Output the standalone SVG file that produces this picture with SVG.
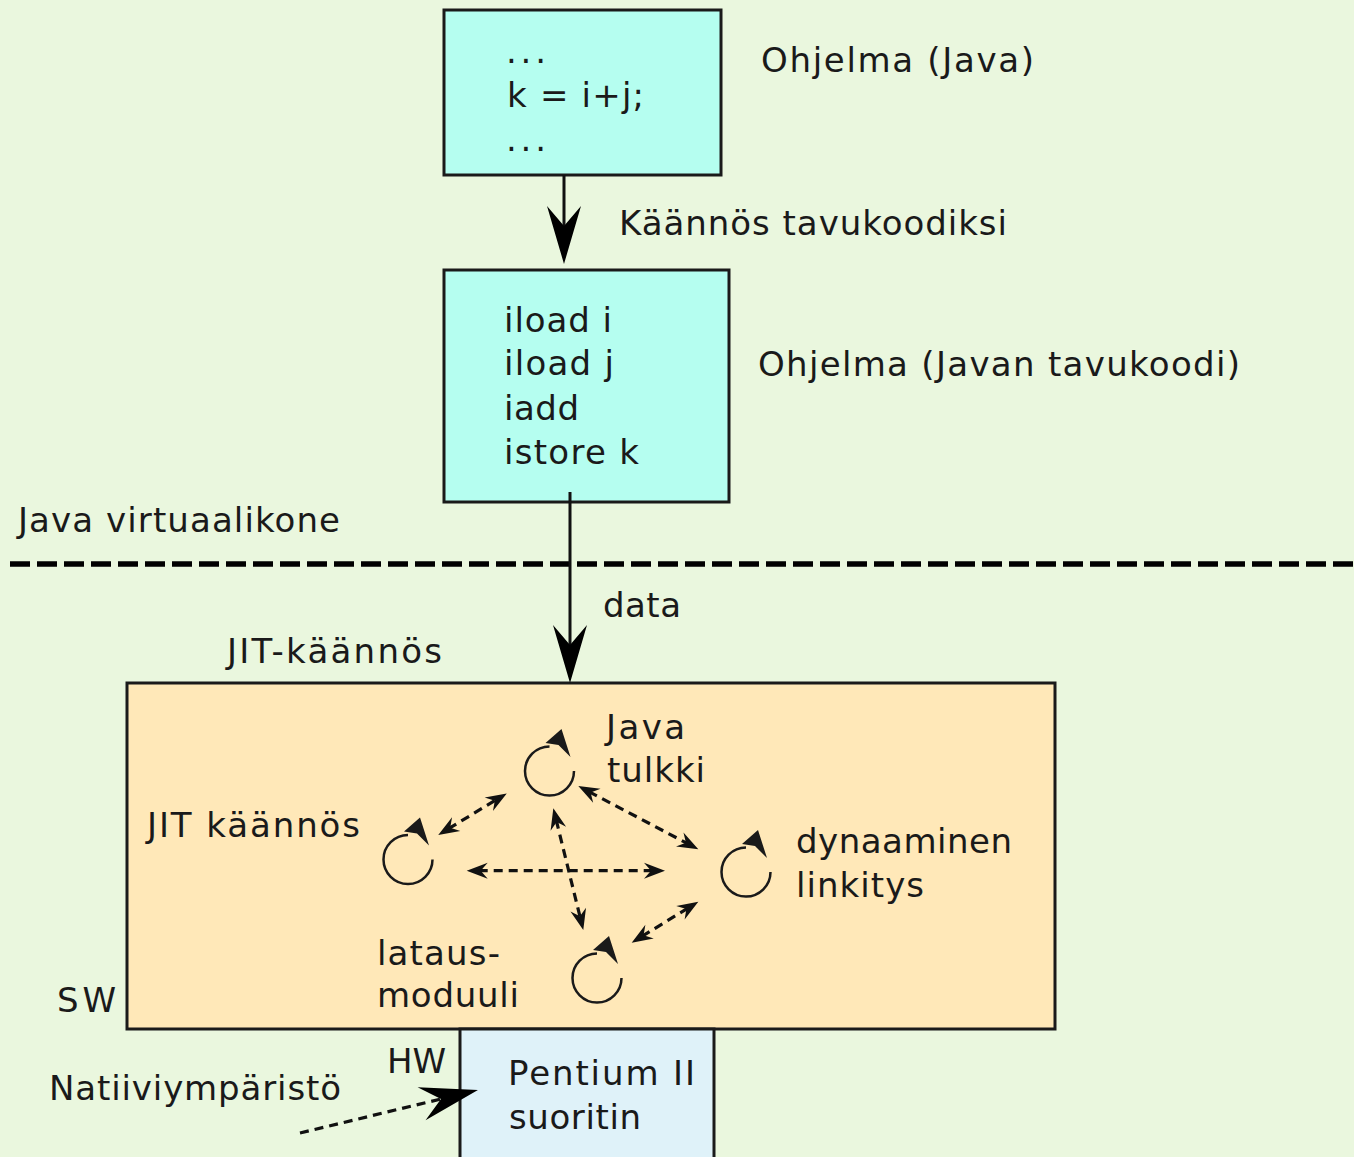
<svg xmlns="http://www.w3.org/2000/svg" xmlns:xlink="http://www.w3.org/1999/xlink" width="1354" height="1157" viewBox="0 0 1354 1157">
  <style>
    text { font-family: "DejaVu Sans", "Liberation Sans", sans-serif; font-size: 34px; fill: #1a1a1a; }
    .box { stroke: #1a1a1a; stroke-width: 3; }
    .code { fill: #b5fef0; }
    .jvm { fill: #ffe8b8; }
    .cpu { fill: #dff2f9; }
    .solid { fill: none; stroke: #111; stroke-width: 3; }
    .dash { fill: none; stroke: #111; stroke-width: 3.2; stroke-dasharray: 9 6; }
    .sep { fill: none; stroke: #000; stroke-width: 5.5; stroke-dasharray: 20 7; }
    .loop-arc { fill: none; stroke: #1a1a1a; stroke-width: 2.5; }
    .loop-head { fill: #1a1a1a; }
  </style>
  <defs>
    <!-- large concave arrowhead, line ends at the notch -->
    <marker id="head" viewBox="-62 -20 64 40" refX="-38" refY="0" markerWidth="64" markerHeight="40" markerUnits="userSpaceOnUse" orient="auto">
      <path d="M0,0 L-58,-17 L-38,0 L-58,17 Z" fill="#000"/>
    </marker>
    <!-- small arrowhead for the dashed two-way links -->
    <marker id="tip" viewBox="-24 -11 26 22" refX="-12" refY="0" markerWidth="26" markerHeight="22" markerUnits="userSpaceOnUse" orient="auto-start-reverse">
      <path d="M0,0 L-21,-8 L-14,0 L-21,8 Z" fill="#111"/>
    </marker>
    <!-- circular "process" symbol centred on the origin -->
    <g id="loop">
      <path class="loop-arc" d="M0,-24.5 A24.5,24.5 0 1 0 24.5,0"/>
      <path class="loop-head" d="M12,-42 L-4,-28 L9,-26 L21,-14 Z"/>
    </g>
  </defs>

  <rect x="0" y="0" width="1354" height="1157" fill="#eaf7de"/>

  <!-- layer separator -->
  <path class="sep" d="M10,564 H1354"/>

  <g id="java-source">
    <rect class="box code" x="444" y="10" width="277" height="165"/>
    <text x="506" y="63" textLength="40" lengthAdjust="spacing">...</text>
    <text x="507" y="107" textLength="137" lengthAdjust="spacing">k = i+j;</text>
    <text x="506" y="151" textLength="40" lengthAdjust="spacing">...</text>
  </g>
  <text x="761" y="72" textLength="273" lengthAdjust="spacing">Ohjelma (Java)</text>

  <g id="bytecode">
    <rect class="box code" x="444" y="270" width="285" height="232"/>
    <text x="504" y="332" textLength="108" lengthAdjust="spacing">iload i</text>
    <text x="504" y="375" textLength="110" lengthAdjust="spacing">iload j</text>
    <text x="504" y="420" textLength="75" lengthAdjust="spacing">iadd</text>
    <text x="504" y="464" textLength="135" lengthAdjust="spacing">istore k</text>
  </g>
  <text x="758" y="376" textLength="482" lengthAdjust="spacing">Ohjelma (Javan tavukoodi)</text>

  <text x="18" y="532" textLength="322" lengthAdjust="spacing">Java virtuaalikone</text>
  <text x="227" y="663" textLength="215" lengthAdjust="spacing">JIT-käännös</text>

  <g id="jvm">
    <rect class="box jvm" x="127" y="683" width="928" height="346"/>
  </g>

  <g id="cpu">
    <rect class="box cpu" x="460" y="1029" width="254" height="140"/>
    <text x="508" y="1085" textLength="187" lengthAdjust="spacing">Pentium II</text>
    <text x="509" y="1129" textLength="132" lengthAdjust="spacing">suoritin</text>
  </g>

  <g id="java-tulkki">
    <use xlink:href="#loop" href="#loop" x="549.5" y="771"/>
    <text x="606" y="739" textLength="79" lengthAdjust="spacing">Java</text>
    <text x="607" y="782" textLength="98" lengthAdjust="spacing">tulkki</text>
  </g>

  <g id="jit-kaannos">
    <use xlink:href="#loop" href="#loop" x="408" y="859.5"/>
    <text x="147" y="837" textLength="213" lengthAdjust="spacing">JIT käännös</text>
  </g>

  <g id="dynaaminen-linkitys">
    <use xlink:href="#loop" href="#loop" x="746" y="872"/>
    <text x="796" y="853" textLength="216" lengthAdjust="spacing">dynaaminen</text>
    <text x="796" y="897" textLength="128" lengthAdjust="spacing">linkitys</text>
  </g>

  <g id="latausmoduuli">
    <use xlink:href="#loop" href="#loop" x="597" y="978"/>
    <text x="377" y="965" textLength="123" lengthAdjust="spacing">lataus-</text>
    <text x="377" y="1007" textLength="142" lengthAdjust="spacing">moduuli</text>
  </g>

  <text x="57" y="1012" textLength="59" lengthAdjust="spacing">SW</text>
  <text x="387" y="1073">HW</text>
  <text x="49" y="1100" textLength="292" lengthAdjust="spacing">Natiiviympäristö</text>

  <g id="connectors">
    <!-- compilation to bytecode -->
    <path class="solid" d="M564,175 V226" marker-end="url(#head)"/>
    <text x="619" y="235" textLength="388" lengthAdjust="spacing">Käännös tavukoodiksi</text>
    <!-- bytecode fed into the virtual machine -->
    <path class="solid" d="M570,492 V645" marker-end="url(#head)"/>
    <text x="603" y="617" textLength="78" lengthAdjust="spacing">data</text>
    <!-- interactions between the VM components -->
    <path class="dash" d="M448.5,828.7 L496.5,799.6" marker-start="url(#tip)" marker-end="url(#tip)"/>
    <path class="dash" d="M588.9,791.6 L687.7,843.7" marker-start="url(#tip)" marker-end="url(#tip)"/>
    <path class="dash" d="M478.7,870.7 L653,870.7" marker-start="url(#tip)" marker-end="url(#tip)"/>
    <path class="dash" d="M556.2,820 L580.4,918.3" marker-start="url(#tip)" marker-end="url(#tip)"/>
    <path class="dash" d="M641.9,936.4 L688.1,908" marker-start="url(#tip)" marker-end="url(#tip)"/>
    <!-- native environment -->
    <path class="dash" d="M300,1133 L441,1099" stroke-dasharray="12 8" marker-end="url(#head)"/>
  </g>
</svg>
